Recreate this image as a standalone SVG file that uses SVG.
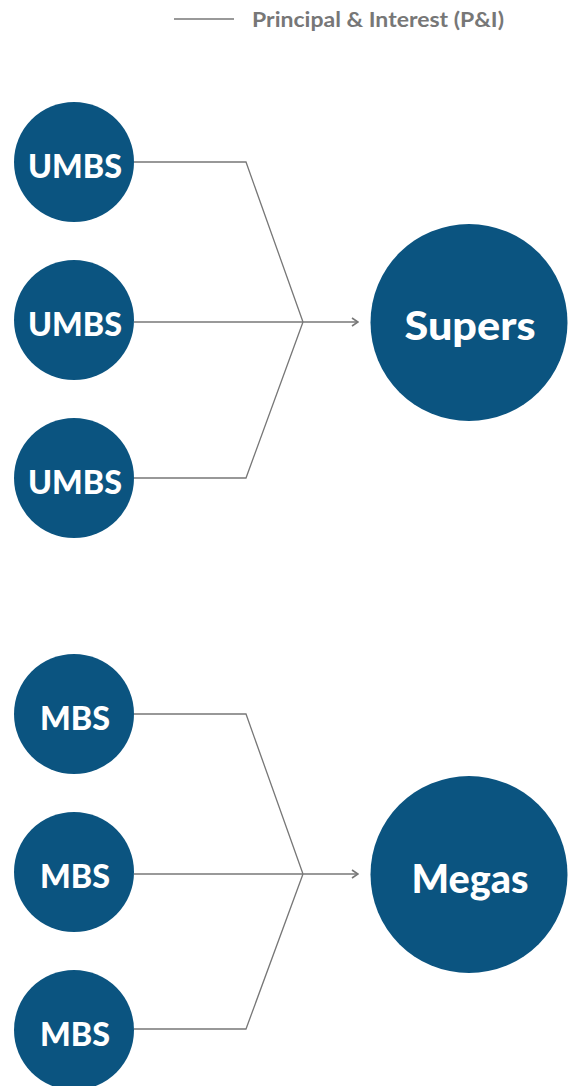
<svg xmlns="http://www.w3.org/2000/svg" width="568" height="1086" viewBox="0 0 568 1086">
<style>
.bg{fill:#ffffff}
.node{fill:#0b5480}
.lbl{fill:#ffffff;font-family:"Source Sans Pro","Lato","Open Sans","Liberation Sans",sans-serif;font-weight:900;text-anchor:middle;dominant-baseline:central}
.sm{font-size:32px}
.lg{font-size:39px}
.conn{fill:none;stroke:#777777;stroke-width:1.3}
.legend{fill:#777777;font-family:"Source Sans Pro","Lato","Open Sans","Liberation Sans",sans-serif;font-weight:bold;font-size:21px}
</style>
<defs>
<marker id="arr" viewBox="0 0 10 10" refX="9" refY="5" markerWidth="10" markerHeight="10" markerUnits="userSpaceOnUse" orient="auto">
<path d="M3,1 L9,5 L3,9" fill="none" stroke="#777777" stroke-width="1.6"/>
</marker>
</defs>
<rect class="bg" x="0" y="0" width="568" height="1086"/>
<g id="legend">
<line x1="174" y1="19" x2="234" y2="19" class="conn"/>
<text x="252" y="27" class="legend" textLength="252" lengthAdjust="spacingAndGlyphs">Principal &amp; Interest (P&amp;I)</text>
</g>
<g id="connectors">
<polyline class="conn" points="134,162 246,162 303,322"/>
<polyline class="conn" points="134,478 246,478 303,322"/>
<line class="conn" x1="134" y1="322" x2="358" y2="322" marker-end="url(#arr)"/>
<polyline class="conn" points="134,714 246,714 303,874"/>
<polyline class="conn" points="134,1029 246,1029 303,874"/>
<line class="conn" x1="134" y1="874" x2="358" y2="874" marker-end="url(#arr)"/>
</g>
<g id="umbs1"><circle class="node" cx="74" cy="162" r="60"/><text class="lbl sm" x="75" y="165" textLength="94" lengthAdjust="spacingAndGlyphs">UMBS</text></g>
<g id="umbs2"><circle class="node" cx="74" cy="320" r="60"/><text class="lbl sm" x="75" y="323" textLength="94" lengthAdjust="spacingAndGlyphs">UMBS</text></g>
<g id="umbs3"><circle class="node" cx="74" cy="478" r="60"/><text class="lbl sm" x="75" y="481" textLength="94" lengthAdjust="spacingAndGlyphs">UMBS</text></g>
<g id="supers"><circle class="node" cx="469" cy="322.5" r="98.5"/><text class="lbl lg" x="470" y="325" textLength="131" lengthAdjust="spacingAndGlyphs">Supers</text></g>
<g id="mbs1"><circle class="node" cx="74" cy="714" r="60"/><text class="lbl sm" x="75" y="717" textLength="70" lengthAdjust="spacingAndGlyphs">MBS</text></g>
<g id="mbs2"><circle class="node" cx="74" cy="872" r="60"/><text class="lbl sm" x="75" y="875" textLength="70" lengthAdjust="spacingAndGlyphs">MBS</text></g>
<g id="mbs3"><circle class="node" cx="74" cy="1030" r="60"/><text class="lbl sm" x="75" y="1033" textLength="70" lengthAdjust="spacingAndGlyphs">MBS</text></g>
<g id="megas"><circle class="node" cx="469" cy="874.5" r="98.5"/><text class="lbl lg" x="470" y="878" textLength="117" lengthAdjust="spacingAndGlyphs">Megas</text></g>
</svg>
